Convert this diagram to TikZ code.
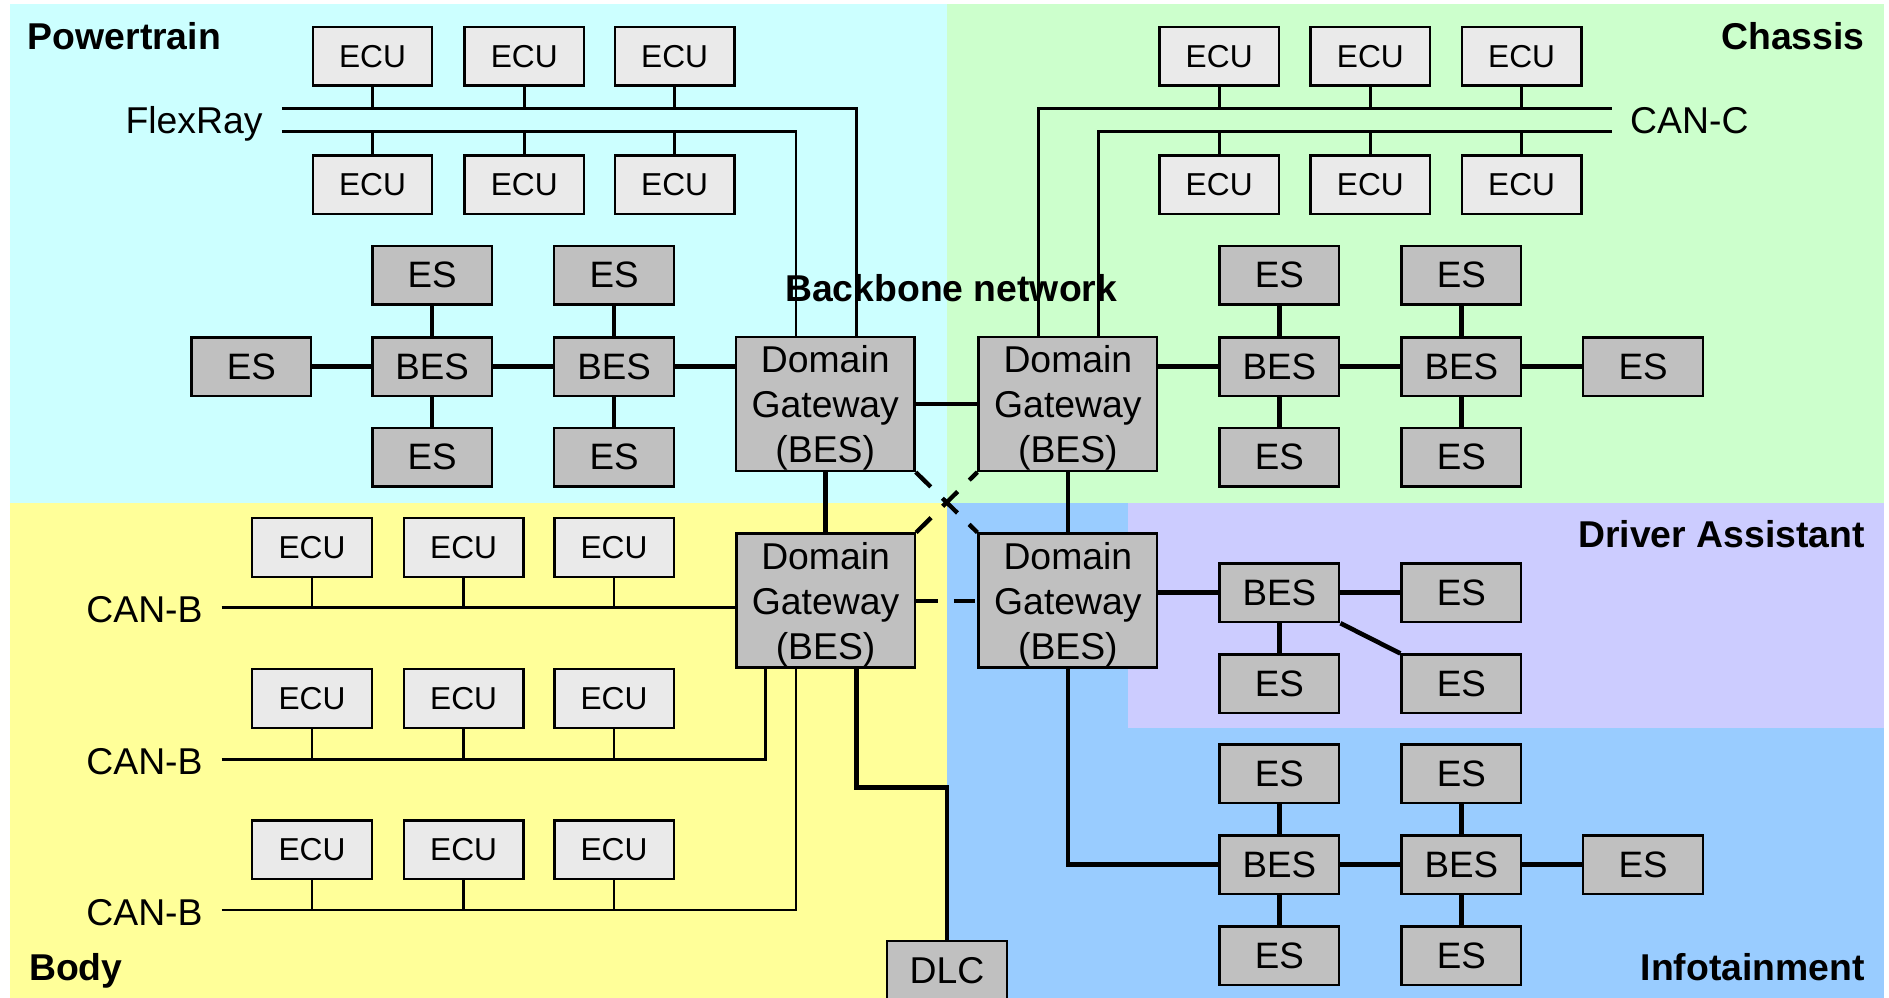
\documentclass[tikz,border=0pt]{standalone}
\usepackage{fontspec}
\setmainfont{Liberation Sans}
\definecolor{bgPow}{HTML}{CCFFFF}
\definecolor{bgCha}{HTML}{CCFFCC}
\definecolor{bgBody}{HTML}{FFFF99}
\definecolor{bgInf}{HTML}{99CCFF}
\definecolor{bgDA}{HTML}{CCCCFF}
\definecolor{ecuFill}{HTML}{EAEAEA}
\definecolor{esFill}{HTML}{C0C0C0}
\tikzset{
  ecubox/.style={draw=black, line width=2pt, fill=ecuFill, minimum width=99.2pt, minimum height=48.6pt, inner sep=0pt, font=\fontsize{26.3pt}{31pt}\selectfont},
  esbox/.style={draw=black, line width=2pt, fill=esFill, minimum width=99.3pt, minimum height=48.6pt, inner sep=0pt, font=\fontsize{30.5pt}{36pt}\selectfont},
  gwbox/.style={draw=black, line width=2pt, fill=esFill, minimum width=148.2pt, minimum height=111.2pt, inner sep=0pt},
  gwtext/.style={inner sep=0pt, align=center, font=\fontsize{31pt}{37.3pt}\selectfont},
  domlabel/.style={inner sep=0pt, font=\fontsize{31pt}{37pt}\selectfont\bfseries},
  buslabel/.style={inner sep=0pt, font=\fontsize{31pt}{37pt}\selectfont},
  busline/.style={line width=2.2pt},
  thkline/.style={line width=3.8pt},
  dashdiag/.style={line width=3.6pt, dash pattern=on 17.5pt off 13.5pt},
  dashhor/.style={line width=3.6pt, dash pattern=on 18pt off 13.3pt}
}
\begin{document}
\begin{tikzpicture}[x=1pt,y=-1pt]
\useasboundingbox (0,0) rectangle (1568,827.6);
% domain panels
\fill[bgPow] (8,3) rectangle (786,417.5);
\fill[bgCha] (786,3) rectangle (1564,417.5);
\fill[bgBody] (8,417.5) rectangle (786,830);
\fill[bgInf] (786,417.5) rectangle (1564,830);
\fill[bgDA] (936.5,417.5) rectangle (1564,604.5);

% domain labels
\node[domlabel, anchor=base west] (tPow) at (23,41) {Powertrain};
\node[domlabel, anchor=base east] (tCha) at (1548,41) {Chassis};
\node[domlabel, anchor=base east] (tDA) at (1548,454.3) {Driver Assistant};
\node[domlabel, anchor=base east] (tInf) at (1548,813.5) {Infotainment};
\node[domlabel, anchor=base west] (tBody) at (24,813.5) {Body};
\node[domlabel, anchor=base] (tBB) at (789.5,250.4) {Backbone network};

% bus labels
\node[buslabel, anchor=base west] (lFR) at (104,110.7) {FlexRay};
\node[buslabel, anchor=base west] (lCC) at (1353,110.7) {CAN-C};
\node[buslabel, anchor=base west] (lCB1) at (71.5,517) {CAN-B};
\node[buslabel, anchor=base west] (lCB2) at (71.5,642.5) {CAN-B};
\node[buslabel, anchor=base west] (lCB3) at (71.5,768) {CAN-B};

% gateways
\node[gwbox] (g1) at (685,335.3) {};
\node[gwtext, yshift=-3.5pt] (g1t) at (g1.center) {Domain\\Gateway\\(BES)};
\node[gwbox] (g2) at (886.4,335.3) {};
\node[gwtext, yshift=-3.5pt] (g2t) at (g2.center) {Domain\\Gateway\\(BES)};
\node[gwbox] (g3) at (685.3,498.6) {};
\node[gwtext, yshift=-3.5pt] (g3t) at (g3.center) {Domain\\Gateway\\(BES)};
\node[gwbox] (g4) at (886.4,498.6) {};
\node[gwtext, yshift=-3.5pt] (g4t) at (g4.center) {Domain\\Gateway\\(BES)};

% Powertrain ECUs
\node[ecubox] (pe1) at (309.2,46.7) {ECU};
\node[ecubox] (pe2) at (435.2,46.7) {ECU};
\node[ecubox] (pe3) at (560,46.7) {ECU};
\node[ecubox] (pe4) at (309.2,153.3) {ECU};
\node[ecubox] (pe5) at (435.2,153.3) {ECU};
\node[ecubox] (pe6) at (560,153.3) {ECU};
% Chassis ECUs
\node[ecubox] (ce1) at (1012,46.7) {ECU};
\node[ecubox] (ce2) at (1137.5,46.7) {ECU};
\node[ecubox] (ce3) at (1263,46.7) {ECU};
\node[ecubox] (ce4) at (1012,153.3) {ECU};
\node[ecubox] (ce5) at (1137.5,153.3) {ECU};
\node[ecubox] (ce6) at (1263,153.3) {ECU};
% Body ECUs
\node[ecubox] (be1) at (259,454.5) {ECU};
\node[ecubox] (be2) at (384.8,454.5) {ECU};
\node[ecubox] (be3) at (509.7,454.5) {ECU};
\node[ecubox] (be4) at (259,579.8) {ECU};
\node[ecubox] (be5) at (384.8,579.8) {ECU};
\node[ecubox] (be6) at (509.7,579.8) {ECU};
\node[ecubox] (be7) at (259,705.3) {ECU};
\node[ecubox] (be8) at (384.8,705.3) {ECU};
\node[ecubox] (be9) at (509.7,705.3) {ECU};

% Powertrain Ethernet
\node[esbox] (pl) at (208.7,304.4) {ES};
\node[esbox] (pb1) at (358.7,304.4) {BES};
\node[esbox] (pb2) at (509.7,304.4) {BES};
\node[esbox] (pt1) at (358.7,228.3) {ES};
\node[esbox] (pt2) at (509.7,228.3) {ES};
\node[esbox] (pd1) at (358.7,379.5) {ES};
\node[esbox] (pd2) at (509.7,379.5) {ES};
% Chassis Ethernet
\node[esbox] (cb1) at (1062,304.4) {BES};
\node[esbox] (cb2) at (1213,304.4) {BES};
\node[esbox] (cr) at (1363.8,304.4) {ES};
\node[esbox] (ct1) at (1062,228.3) {ES};
\node[esbox] (ct2) at (1213,228.3) {ES};
\node[esbox] (cd1) at (1062,379.5) {ES};
\node[esbox] (cd2) at (1213,379.5) {ES};
% Driver assistant
\node[esbox] (db) at (1062,492) {BES};
\node[esbox] (dr) at (1213,492) {ES};
\node[esbox] (dd1) at (1062,567.7) {ES};
\node[esbox] (dd2) at (1213,567.7) {ES};
% Infotainment
\node[esbox] (it1) at (1062,642.4) {ES};
\node[esbox] (it2) at (1213,642.4) {ES};
\node[esbox] (ib1) at (1062,717.8) {BES};
\node[esbox] (ib2) at (1213,717.8) {BES};
\node[esbox] (ir) at (1363.8,717.8) {ES};
\node[esbox] (id1) at (1062,793.2) {ES};
\node[esbox] (id2) at (1213,793.2) {ES};
% DLC
\node[esbox, font=\fontsize{31pt}{37pt}\selectfont] (dlc) at (786,805.5) {DLC};

% bus free ends
\coordinate (frA) at (234,90);
\coordinate (frB) at (234,109);
\coordinate (ccA) at (1338,90);
\coordinate (ccB) at (1338,109);
\coordinate (cbA) at (184,504.4);
\coordinate (cbB) at (184,630.3);
\coordinate (cbC) at (184,755.4);

% FlexRay
\draw[busline] (frA) -| ([xshift=26pt]g1.north);
\draw[busline] (frB) -| ([xshift=-24.4pt]g1.north);
\foreach \e in {pe1,pe2,pe3} \draw[busline] (\e.south) -- (\e.south |- frA);
\foreach \e in {pe4,pe5,pe6} \draw[busline] (\e.north) -- (\e.north |- frB);
% CAN-C
\draw[busline] (ccA) -| ([xshift=-24.4pt]g2.north);
\draw[busline] (ccB) -| ([xshift=25.6pt]g2.north);
\foreach \e in {ce1,ce2,ce3} \draw[busline] (\e.south) -- (\e.south |- ccA);
\foreach \e in {ce4,ce5,ce6} \draw[busline] (\e.north) -- (\e.north |- ccB);
% CAN-B
\draw[busline] (cbA) -- (cbA -| g3.west);
\draw[busline] (cbB) -| ([xshift=-49.9pt]g3.south);
\draw[busline] (cbC) -| ([xshift=-24.7pt]g3.south);
\foreach \e in {be1,be2,be3} \draw[busline] (\e.south) -- (\e.south |- cbA);
\foreach \e in {be4,be5,be6} \draw[busline] (\e.south) -- (\e.south |- cbB);
\foreach \e in {be7,be8,be9} \draw[busline] (\e.south) -- (\e.south |- cbC);

% Powertrain Ethernet links
\draw[thkline] (pl.east) -- (pb1.west);
\draw[thkline] (pb1.east) -- (pb2.west);
\draw[thkline] (pb2.east) -- (pb2.east -| g1.west);
\draw[thkline] (pt1.south) -- (pb1.north);
\draw[thkline] (pt2.south) -- (pb2.north);
\draw[thkline] (pb1.south) -- (pd1.north);
\draw[thkline] (pb2.south) -- (pd2.north);
% Chassis Ethernet links
\draw[thkline] (cb1.west -| g2.east) -- (cb1.west);
\draw[thkline] (cb1.east) -- (cb2.west);
\draw[thkline] (cb2.east) -- (cr.west);
\draw[thkline] (ct1.south) -- (cb1.north);
\draw[thkline] (ct2.south) -- (cb2.north);
\draw[thkline] (cb1.south) -- (cd1.north);
\draw[thkline] (cb2.south) -- (cd2.north);
% Backbone
\draw[thkline] (g1.east) -- (g2.west);
\draw[thkline] (g1.south) -- (g1.south |- g3.north);
\draw[thkline] (g2.south) -- (g2.south |- g4.north);
\draw[dashdiag] (g1.south east) -- (g4.north west);
\draw[dashdiag] (g3.north east) -- (g2.south west);
\draw[dashhor] (g3.east) -- (g4.west);
% DLC
\draw[thkline] ([xshift=25.7pt]g3.south) -- ++(0,98.7) -| (dlc.north);
% Driver assistant links
\draw[thkline] (db.west -| g4.east) -- (db.west);
\draw[thkline] (db.east) -- (dr.west);
\draw[thkline] (db.south) -- (dd1.north);
\draw[thkline] (db.south east) -- (dd2.north west);
% Infotainment links
\draw[thkline] (g4.south) |- (ib1.west);
\draw[thkline] (ib1.east) -- (ib2.west);
\draw[thkline] (ib2.east) -- (ir.west);
\draw[thkline] (it1.south) -- (ib1.north);
\draw[thkline] (it2.south) -- (ib2.north);
\draw[thkline] (ib1.south) -- (id1.north);
\draw[thkline] (ib2.south) -- (id2.north);
\end{tikzpicture}
\end{document}
